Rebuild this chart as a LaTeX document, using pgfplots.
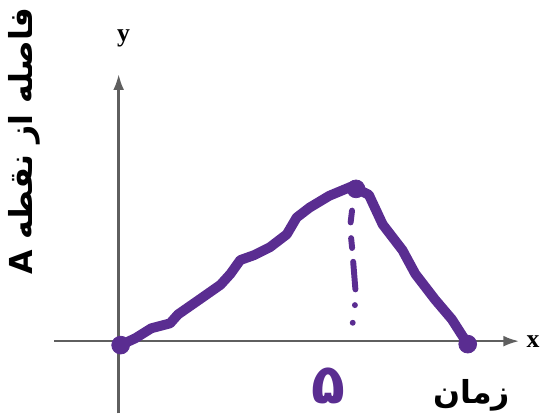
\documentclass[border=0pt]{standalone}
\usepackage{fontspec}
\usepackage{pgfplots}
\pgfplotsset{compat=1.18}
\usetikzlibrary{arrows.meta}
\setmainfont{Liberation Serif}
\newfontfamily\arabicfont[Script=Arabic]{DejaVu Sans}
\TeXXeTstate=1
\definecolor{pen}{RGB}{90,45,145}
\definecolor{axisgray}{RGB}{95,95,95}

\begin{document}
\begin{tikzpicture}
\begin{axis}[
    x=0.5pt, y=0.5pt,
    axis lines=middle,
    axis line style={axisgray, line width=1.2pt, -{Latex[length=8pt,width=5.5pt]}},
    xmin=-65, xmax=405,
    ymin=-73, ymax=270,
    enlargelimits=false,
    xtick=\empty, ytick=\empty,
    clip=false,
    ]
% hand drawn distance-time curve
\addplot[pen, line width=5pt, line join=round, line cap=round] coordinates {
    (2,-4) (17,3) (33,13) (52,18) (60,27) (83,43) (103,57) (113,68)
    (123,82) (137,87) (153,95) (170,108) (180,125) (193,135) (213,147)
    (237,157) (243,153) (253,148) (267,118) (287,92) (300,68) (320,42)
    (337,22) (353,-3)
};
% dots at the ends and the peak
\addplot[pen, only marks, mark=*, mark size=4.5pt] coordinates {
    (2,-4) (240,154) (353,-3)
};
% dotted drop line from the peak
\addplot[pen, line width=3pt, line cap=round,
    dash pattern=on 6pt off 8pt on 5pt off 7pt on 14pt off 8pt on 0pt off 9pt on 0pt off 20pt]
    coordinates {(236,132) (234,115) (236,95) (238,70) (240,45) (236,13)};

\node[font=\bfseries\fontsize{13}{13}\selectfont] at (axis cs:5,306) {y};
\node[font=\bfseries\fontsize{13}{13}\selectfont] at (axis cs:419,0) {x};
\node[rotate=90, font=\arabicfont\bfseries\fontsize{16}{16}\selectfont]
    at (axis cs:-95,202) {\beginR فاصله از نقطه A\endR};
\node[font=\arabicfont\bfseries\fontsize{16}{16}\selectfont]
    at (axis cs:357,-55) {\beginR زمان\endR};
\node[pen, inner sep=0pt, font=\arabicfont\bfseries\fontsize{28}{28}\selectfont]
    at (axis cs:212,-45) {۵};

\coordinate (ll) at (axis cs:-120,-79);
\coordinate (ur) at (axis cs:426,345);
\end{axis}
\path (ll) rectangle (ur);
\end{tikzpicture}
\end{document}
